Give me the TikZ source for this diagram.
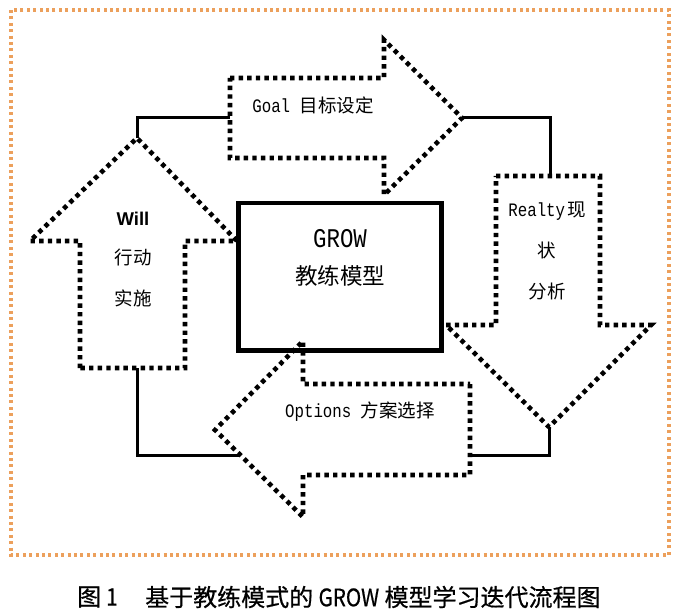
\documentclass[tikz,border=0pt]{standalone}
\usepackage{fontspec}
\setmainfont{Liberation Serif}
\newfontfamily\cjk{Noto Sans CJK SC}
\newfontfamily\capfont[FakeBold=0.6]{Noto Sans CJK SC}
\newfontfamily\monof[FakeStretch=0.83]{Liberation Mono}
\newfontfamily\sansf{Liberation Sans}
\newfontfamily\capnarrow[FakeStretch=0.86,FakeBold=0.6]{Noto Sans CJK SC}
\newcommand\fsz[1]{\fontsize{#1}{#1}\selectfont}
\definecolor{frameorange}{RGB}{236,160,92}
\tikzset{
  dotline/.style={line width=4.6bp, dash pattern=on 4.4bp off 4.2bp, black},
  conn/.style={line width=3bp, black},
  frame/.style={line width=3.2bp, dash pattern=on 3bp off 3.4bp, frameorange},
  lbl/.style={inner sep=0pt, text=black},
  growbox/.style={draw, line width=4.8bp, inner sep=0pt, minimum width=203bp, minimum height=147.5bp}
}
\begin{document}
\begin{tikzpicture}[x=1bp,y=-1bp]
\useasboundingbox (0,0) rectangle (680,611);
% outer frame
\draw[frame] (11,10) rectangle (669,555);
% connector end points
\coordinate (wTip) at (137,138);
\coordinate (gIn) at (230,118);
\coordinate (gTip) at (462,118);
\coordinate (rIn) at (550,176);
\coordinate (rTip) at (549,427);
\coordinate (oIn) at (470,455);
\coordinate (oOut) at (240,455);
\coordinate (wIn) at (137,368);
% connectors
\draw[conn] (wTip) |- (gIn);
\draw[conn] (gTip) -| (rIn);
\draw[conn] (rTip) |- (oIn);
\draw[conn] (oOut) -| (wIn);
% Goal arrow (right)
\draw[dotline] (230,78) -- (384,78) -- (384,40) -- (gTip) -- (384,195) -- (384,158) -- (230,158) -- cycle;
% Realty arrow (down)
\draw[dotline] (496,176) -- (600,176) -- (600,325) -- (651,325) -- (rTip) -- (446,325) -- (496,325) -- cycle;
% Options arrow (left)
\draw[dotline] (470,384) -- (470,475) -- (303,475) -- (303,517) -- (215,430) -- (303,341) -- (303,384) -- cycle;
% Will arrow (up)
\draw[dotline] (80,368) -- (80,241) -- (30,241) -- (wTip) -- (237,241) -- (185,241) -- (185,368) -- cycle;
% central box
\node[growbox] (grow) at (340.2,276.75) {};
\node[lbl] (growT) at (340,238.5) {\fsz{27bp}\monof GROW};
\node[lbl] (growC) at (340,276) {\cjk\fsz{22.5bp}教练模型};
% labels
\node[lbl] (goalT) at (313,105) {\fsz{19bp}\monof Goal \cjk\fsz{18.5bp}目标设定};
\node[lbl] (willT) at (133,219) {\sansf\bfseries\fsz{18.5bp}Will};
\node[lbl] (willC1) at (133,257) {\cjk\fsz{18.5bp}行动};
\node[lbl] (willC2) at (133,298) {\cjk\fsz{18.5bp}实施};
\node[lbl] (realT) at (547,211) {\fsz{19bp}\monof Realty\hspace{2bp}\cjk\fsz{18.5bp}现};
\node[lbl] (realC1) at (547,250) {\cjk\fsz{18.5bp}状};
\node[lbl] (realC2) at (547,291) {\cjk\fsz{18.5bp}分析};
\node[lbl] (optT) at (360,412) {\fsz{19bp}\monof Options \cjk\fsz{18.5bp}方案选择};
% caption
\node[lbl, anchor=west] (capA) at (77,597) {\capfont\fsz{24bp}图\hspace{5bp}{\capnarrow 1}};
\node[lbl, anchor=west] (capB) at (145,597) {\capfont\fsz{24bp}基于教练模式的 {\capnarrow GROW} 模型学习迭代流程图};
\end{tikzpicture}
\end{document}
